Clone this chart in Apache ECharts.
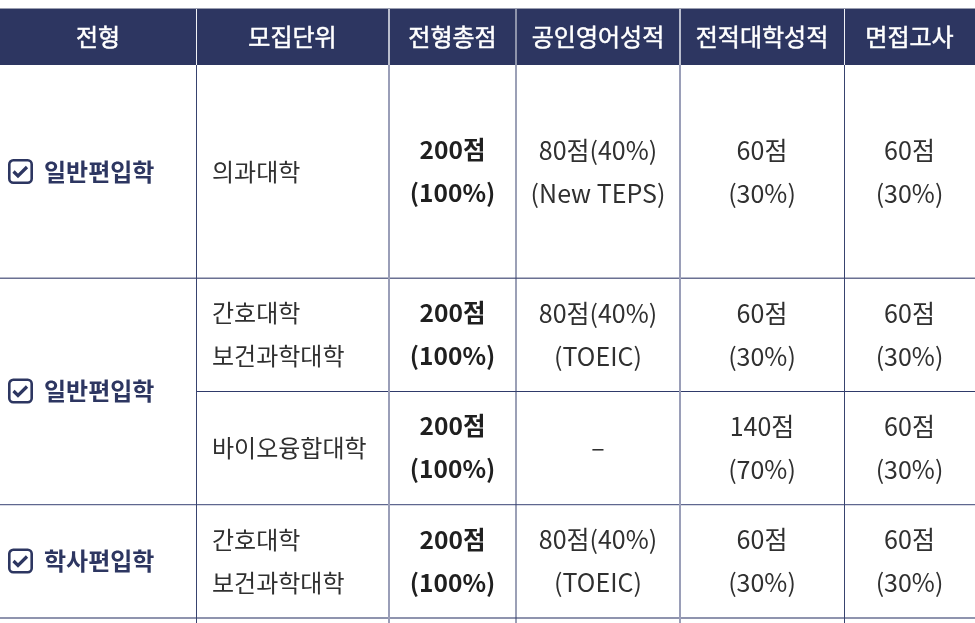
<!DOCTYPE html>
<html>
<head>
<meta charset="utf-8">
<title>전형</title>
<script src="https://cdn.jsdelivr.net/npm/echarts@6/dist/echarts.min.js"></script>
<style>
  html, body { margin: 0; padding: 0; background: #fff; }
  #main { width: 975px; height: 623px; }
</style>
</head>
<body>
<div id="main"></div>
<script>
// 표 내용
var headers = ["전형", "모집단위", "전형총점", "공인영어성적", "전적대학성적", "면접고사"];
var admissionTypes = ["일반편입학", "일반편입학", "학사편입학"];
var units = [["의과대학"], ["간호대학", "보건과학대학"], ["바이오융합대학"], ["간호대학", "보건과학대학"]];
var totals = [["200점", "(100%)"], ["200점", "(100%)"], ["200점", "(100%)"], ["200점", "(100%)"]];
var english = [["80점(40%)", "(New TEPS)"], ["80점(40%)", "(TOEIC)"], ["–"], ["80점(40%)", "(TOEIC)"]];
var transcript = [["60점", "(30%)"], ["60점", "(30%)"], ["140점", "(70%)"], ["60점", "(30%)"]];
var interview = [["60점", "(30%)"], ["60점", "(30%)"], ["60점", "(30%)"], ["60점", "(30%)"]];

// 레이아웃
var colEdges = [0, 196, 389, 516, 680, 844, 975];
var rowEdges = [65, 278, 391, 504, 618];
var headTop = 9, pageH = 623, lineGap = 21.5;
var typeSpans = [[0, 0], [1, 2], [3, 3]]; //전형 칸이 걸치는 행
var NAVY = "#2d3661", FONT = '"Noto Sans CJK KR"';

function lineText(api, x, y, text, size, weight, color, align, strokeW) {
  var p = api.coord([x, y]);
  var style = { x: p[0], y: p[1], text: text, fill: color, font: weight + " " + size + 'px ' + FONT, textAlign: align, textVerticalAlign: "middle" };
  if (strokeW) {
    style.stroke = color;
    style.lineWidth = strokeW;
  }
  return { type: "text", style: style };
}

function rectEl(api, x0, y0, x1, y1, color) {
  var a = api.coord([x0, y0]), b = api.coord([x1, y1]);
  return { type: "rect", shape: { x: a[0], y: a[1], width: b[0] - a[0], height: b[1] - a[1] }, style: { fill: color } };
}

// 헤더 배경, 글자
var headData = headers.map(function (h, i) { return [i]; });
function renderHead(params, api) {
  var i = api.value(0);
  return {
    type: "group",
    children: [
      rectEl(api, colEdges[i], headTop, colEdges[i + 1], rowEdges[0], NAVY),
      lineText(api, (colEdges[i] + colEdges[i + 1]) / 2, 36.5, headers[i], 24, "normal", "#fff", "center", 0.5)
    ]
  };
}

// 본문 셀 (열, 행)
var bodyCols = [null, units, totals, english, transcript, interview];
var bodyData = [];
for (var c = 1; c < bodyCols.length; c++) {
  for (var r = 0; r < rowEdges.length - 1; r++) {
    bodyData.push([c, r]);
  }
}
function renderBody(params, api) {
  var c = api.value(0), r = api.value(1);
  var lines = bodyCols[c][r];
  var mid = (rowEdges[r] + rowEdges[r + 1]) / 2;
  var x = c == 1 ? 212 : (colEdges[c] + colEdges[c + 1]) / 2;
  var size = c == 1 ? 24 : (c == 2 ? 24.5 : 25);
  var children = [];
  for (var i = 0; i < lines.length; i++) {
    var y = mid + (i - (lines.length - 1) / 2) * lineGap * 2;
    children.push(lineText(api, x, y, lines[i], size, c == 2 ? "bold" : "normal", c == 2 ? "#1f1f1f" : "#303030", c == 1 ? "left" : "center"));
  }
  return { type: "group", children: children };
}

// 전형 칸 (체크박스 + 이름)
var typeData = admissionTypes.map(function (t, i) { return [i]; });
function renderType(params, api) {
  var i = api.value(0), span = typeSpans[i];
  var mid = (rowEdges[span[0]] + rowEdges[span[1] + 1]) / 2;
  var box = api.coord([8, mid - 12.5]);
  return {
    type: "group",
    children: [
      {
        type: "rect",
        shape: { x: box[0] + 1.3, y: box[1] + 1.3, width: 22.4, height: 22.4, r: 4 },
        style: { fill: "none", stroke: NAVY, lineWidth: 2.6 }
      },
      {
        type: "polyline",
        shape: { points: [[box[0] + 5.5, box[1] + 12.5], [box[0] + 10, box[1] + 17], [box[0] + 19, box[1] + 8]] },
        style: { fill: "none", stroke: NAVY, lineWidth: 3.2 }
      },
      lineText(api, 44, mid, admissionTypes[i], 24, "bold", NAVY, "left")
    ]
  };
}

// 세로 괘선: 헤더 위쪽은 밝은 선
var vLeft = [196, 388, 515.5, 679, 844];
var vRight = [197, 390, 516.5, 681, 845];
var vBodyColors = ["#38436f", "#9a9eb8", "#38436f", "#9a9eb8", "#38436f"];
var vHeadColors = ["#f0f1f5", "#b9bdcd", "#f0f1f5", "#b9bdcd", "#f0f1f5"];
var vLineData = vLeft.map(function (x, i) { return [i]; });
function renderVLine(params, api) {
  var i = api.value(0);
  return {
    type: "group",
    children: [
      rectEl(api, vLeft[i], headTop, vRight[i], rowEdges[0], vHeadColors[i]),
      rectEl(api, vLeft[i], rowEdges[0], vRight[i], pageH, vBodyColors[i])
    ]
  };
}

// 가로 괘선
var hTop = [277.5, 391, 504, 617];
var hBottom = [279, 392, 505.3, 619];
var hStart = [0, 196, 0, 0]; //2행 안쪽 선은 전형 칸을 건너뜀
var hColors = ["#6a7092", "#2f3a6a", "#5f678f", "#8f94ae"];
var hLineData = hTop.map(function (y, i) { return [i]; });
function renderHLine(params, api) {
  var i = api.value(0);
  return rectEl(api, hStart[i], hTop[i], 975, hBottom[i], hColors[i]);
}
var topLineData = [[0]];
function renderTopLine(params, api) {
  return rectEl(api, 0, headTop - 1, 975, headTop, "#9a9eb0");
}

var myChart = echarts.init(document.getElementById("main"));
var option = {
  animation: false,
  backgroundColor: "#fff",
  grid: { left: 0, right: 0, top: 0, bottom: 0 },
  xAxis: { type: "value", min: 0, max: 975, show: false },
  yAxis: { type: "value", min: 0, max: 623, inverse: true, show: false },
  series: [
    { type: "custom", data: topLineData, renderItem: renderTopLine, z: 1 },
    { type: "custom", data: headData, renderItem: renderHead, z: 2 },
    { type: "custom", data: hLineData, renderItem: renderHLine, z: 3 },
    { type: "custom", data: vLineData, renderItem: renderVLine, z: 4 },
    { type: "custom", data: typeData, renderItem: renderType, z: 5 },
    { type: "custom", data: bodyData, renderItem: renderBody, z: 5 }
  ]
};
myChart.setOption(option);
</script>
</body>
</html>
